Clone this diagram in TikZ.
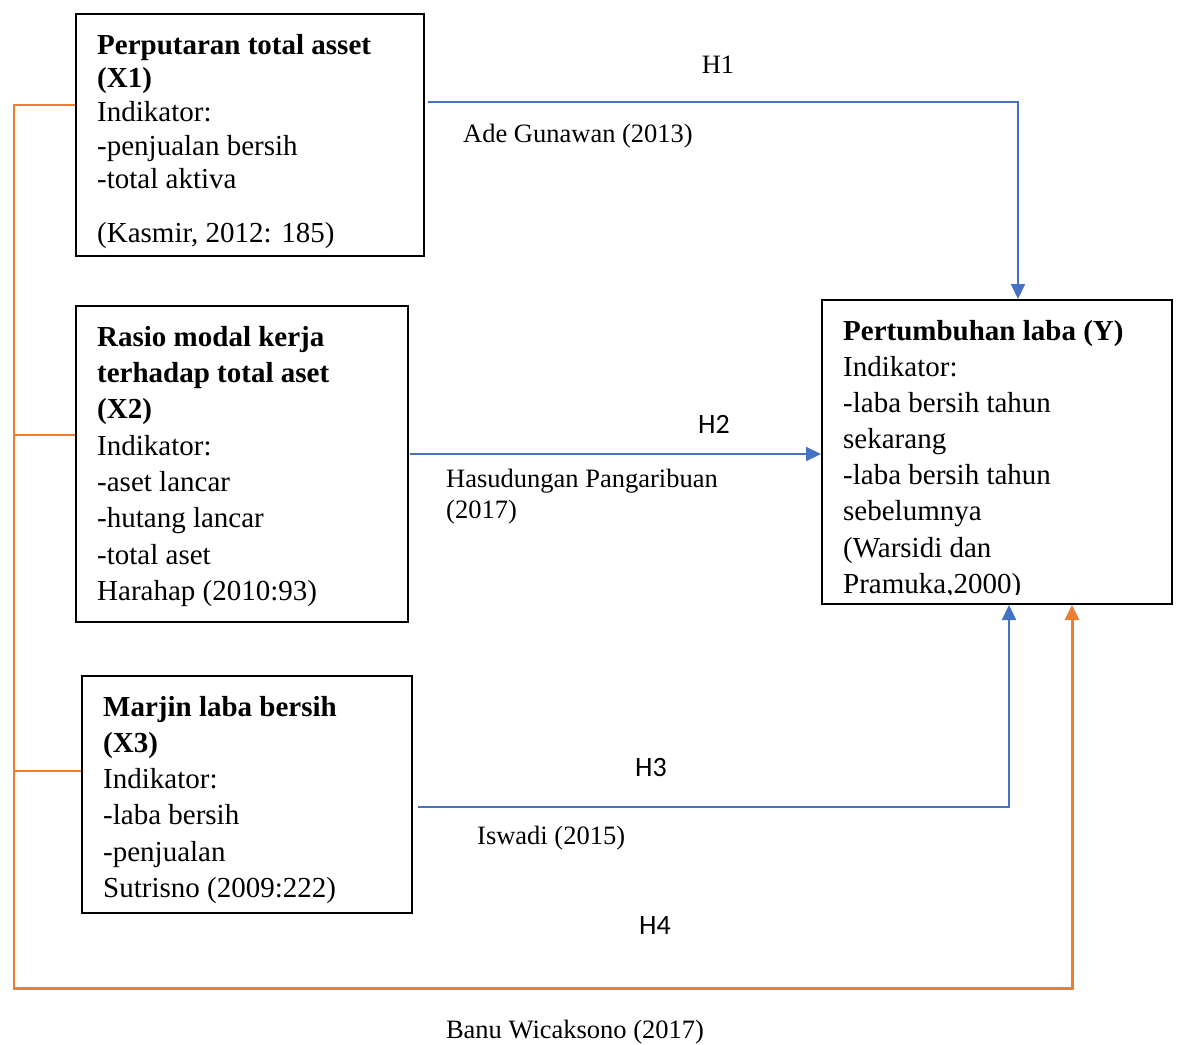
\documentclass[tikz,border=0pt]{standalone}
\usepackage{fontspec}
\setmainfont{Liberation Serif}
\newfontfamily\sanslbl{Carlito}
\usetikzlibrary{arrows.meta}
\definecolor{wblue}{HTML}{4472C4}
\definecolor{worange}{HTML}{ED7D31}
\newcommand\firstlinestrut{\rule{0pt}{22pt}}
\begin{document}
\begin{tikzpicture}[x=1pt,y=-1pt,
  box/.style={draw, line width=2pt, inner sep=0pt},
  txt/.style={anchor=north west, inner sep=0pt, align=left},
  lbl/.style={anchor=base, inner sep=0pt, font=\fontsize{26.5}{31}\selectfont},
  lblw/.style={anchor=base west, inner sep=0pt, align=left, font=\fontsize{26.5}{31}\selectfont},
  hlbl/.style={anchor=base, inner sep=0pt, font=\sanslbl\fontsize{28}{32}\selectfont},
  bline/.style={draw=wblue, line width=2.2pt, -{Triangle[width=14pt,length=15pt]}},
  othin/.style={draw=worange, line width=1.4pt},
  othick/.style={draw=worange, line width=3pt, -{Triangle[width=14pt,length=15pt]}}]
\useasboundingbox (0,0) rectangle (1179,1045);

% boxes
\node[box, minimum width=348pt, minimum height=242pt] (x1) at (250,135) {};
\node[box, minimum width=332pt, minimum height=316pt] (x2) at (242,464) {};
\node[box, minimum width=330pt, minimum height=237pt] (x3) at (247,794.5) {};
\node[box, minimum width=350pt, minimum height=304pt] (yb) at (997,452) {};

% box texts
\node[txt, font=\fontsize{29}{33.6}\selectfont] (x1t) at (97,32) {\firstlinestrut\textbf{Perputaran total asset}\\ \textbf{(X1)}\\ Indikator:\\ -penjualan bersih\\ -total aktiva\\[20pt] (Kasmir, 2012: 185)};
\node[txt, font=\fontsize{29}{36.3}\selectfont] (x2t) at (97,324) {\firstlinestrut\textbf{Rasio modal kerja}\\ \textbf{terhadap total aset}\\ \textbf{(X2)}\\ Indikator:\\ -aset lancar\\ -hutang lancar\\ -total aset\\ Harahap (2010:93)};
\node[txt, font=\fontsize{29}{36.2}\selectfont] (x3t) at (103,694) {\firstlinestrut\textbf{Marjin laba bersih}\\ \textbf{(X3)}\\ Indikator:\\ -laba bersih\\ -penjualan\\ Sutrisno (2009:222)};
\begin{scope}
\clip (823,301) rectangle (1171,594);
\node[txt, font=\fontsize{29}{36.15}\selectfont] (yt) at (843,318) {\firstlinestrut\textbf{Pertumbuhan laba (Y)}\\ Indikator:\\ -laba bersih tahun\\ sekarang\\ -laba bersih tahun\\ sebelumnya\\ (Warsidi dan\\ Pramuka,2000)};
\end{scope}

% coordinates
\coordinate (h1a) at (428,102);
\coordinate (h2a) at (410,454);
\coordinate (h3a) at (418,807);
\coordinate (h4a) at (13,988);
\coordinate (lt) at (14,105);
\coordinate (lb) at (14,988);

% orange left connector lines
\draw[othin] (x1.west |- lt) -- (lt) -- (lb);
\draw[othin] (x2.west |- 0,435) -- (14,435);
\draw[othin] (x3.west |- 0,771) -- (14,771);

% arrows
\draw[bline] (h1a) -| ([xshift=21pt]yb.north);
\draw[bline] (h2a) -- (yb.west |- h2a);
\draw[bline] (h3a) -| ([xshift=12pt]yb.south);
\draw[othick] (h4a) -| ([xshift=75pt]yb.south);

% labels
\node[lbl] (h1) at (718,73) {H1};
\node[lblw] (r1) at (463,142) {Ade Gunawan (2013)};
\node[hlbl] (h2) at (714,433) {H2};
\node[lblw] (r2) at (446,487) {Hasudungan Pangaribuan};
\node[lblw] (r2b) at (446,518) {(2017)};
\node[hlbl] (h3) at (651,776) {H3};
\node[lblw] (r3) at (477,844) {Iswadi (2015)};
\node[hlbl] (h4) at (655,934) {H4};
\node[lbl] (r4) at (575,1038) {Banu Wicaksono (2017)};
\end{tikzpicture}
\end{document}
